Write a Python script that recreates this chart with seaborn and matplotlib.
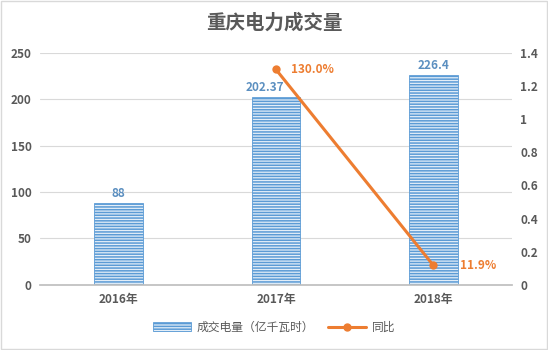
import matplotlib
matplotlib.use("Agg")
import matplotlib.pyplot as plt
import seaborn as sns
import pandas as pd
from matplotlib.patches import Patch, Rectangle
from matplotlib.lines import Line2D

years = ["2016年", "2017年", "2018年"]
volume = [88, 202.37, 226.4]          # 成交电量（亿千瓦时）
yoy = [None, 1.30, 0.119]              # 同比
volume_labels = ["88", "202.37", "226.4"]
yoy_labels = [None, "130.0%", "11.9%"]

sns.set_theme(style="white")
plt.rcParams["font.family"] = ["Noto Sans CJK SC", "DejaVu Sans"]
plt.rcParams["hatch.linewidth"] = 1.1

BLUE = "#5B9BD5"
LIGHT = "#E3EEF8"
ORANGE = "#ED7D31"
GRAY = "#595959"

fig = plt.figure(figsize=(5.48, 3.5), dpi=100)
ax = fig.add_axes([0.073, 0.186, 0.861, 0.663])

df = pd.DataFrame({"year": years, "volume": volume})
sns.barplot(data=df, x="year", y="volume", ax=ax, width=0.31,
            color="white", edgecolor=BLUE, linewidth=0.6)
for p in ax.patches:
    p.set_hatch("------")
    p.set_facecolor(LIGHT)

ax.set_ylim(0, 250)
ax.set_yticks(range(0, 251, 50))
ax.set_xlim(-0.5, 2.5)
ax.set_xlabel("")
ax.set_ylabel("")
ax.grid(axis="y", color="#D9D9D9", linewidth=0.8)
ax.set_axisbelow(True)
for s in ["top", "right", "left"]:
    ax.spines[s].set_visible(False)
ax.spines["bottom"].set_color("#BFBFBF")
ax.tick_params(axis="both", length=0, colors=GRAY, labelsize=8.5, pad=6)
for t in ax.get_xticklabels() + ax.get_yticklabels():
    t.set_fontweight("bold")

# bar value labels; the 2017 one sits a little left so the line stays clear
label_dx = [0, -8, 0]
for i, (v, lab) in enumerate(zip(volume, volume_labels)):
    ax.annotate(lab, (i, v), xytext=(label_dx[i], 2), textcoords="offset points",
                ha="center", va="bottom", color="#5B8FC0",
                fontsize=8.5, fontweight="bold")

ax2 = ax.twinx()
ldf = pd.DataFrame({"x": [1, 2], "yoy": [yoy[1], yoy[2]]})
sns.lineplot(data=ldf, x="x", y="yoy", ax=ax2, color=ORANGE, linewidth=2.2,
             marker="o", markersize=6, markeredgewidth=0)
ax2.set_ylim(0, 1.4)
ax2.set_yticks([0, 0.2, 0.4, 0.6, 0.8, 1.0, 1.2, 1.4])
ax2.set_yticklabels(["0", "0.2", "0.4", "0.6", "0.8", "1", "1.2", "1.4"])
ax2.set_xlim(-0.5, 2.5)
ax2.set_xlabel("")
ax2.set_ylabel("")
for s in ax2.spines.values():
    s.set_visible(False)
ax2.tick_params(axis="y", length=0, colors=GRAY, labelsize=8.5, pad=6)
for t in ax2.get_yticklabels():
    t.set_fontweight("bold")

# percentage labels to the right of each point (2018 one clears the bar)
pct_dx = [0, 11, 19]
for i, (v, lab) in enumerate(zip(yoy, yoy_labels)):
    if v is None:
        continue
    ax2.annotate(lab, (i, v), xytext=(pct_dx[i], 0), textcoords="offset points",
                 ha="left", va="center", color=ORANGE,
                 fontsize=8.5, fontweight="bold")

fig.suptitle("重庆电力成交量", x=0.5, y=0.962, fontsize=14,
             fontweight="bold", color=GRAY)

handles = [
    Patch(facecolor=LIGHT, edgecolor=BLUE, hatch="------", linewidth=0.6),
    Line2D([0], [0], color=ORANGE, linewidth=2.2, marker="o", markersize=5),
]
fig.legend(handles, ["成交电量（亿千瓦时）", "同比"], loc="center",
           bbox_to_anchor=(0.5, 0.065), ncol=2, frameon=False,
           fontsize=8.5, labelcolor=GRAY, handlelength=3.2, columnspacing=1.2,
           handletextpad=0.5)

fig.patches.append(Rectangle((0.002, 0.002), 0.996, 0.996, transform=fig.transFigure,
                             fill=False, edgecolor="#D9D9D9", linewidth=1))

fig.savefig("out.png", dpi=100)
